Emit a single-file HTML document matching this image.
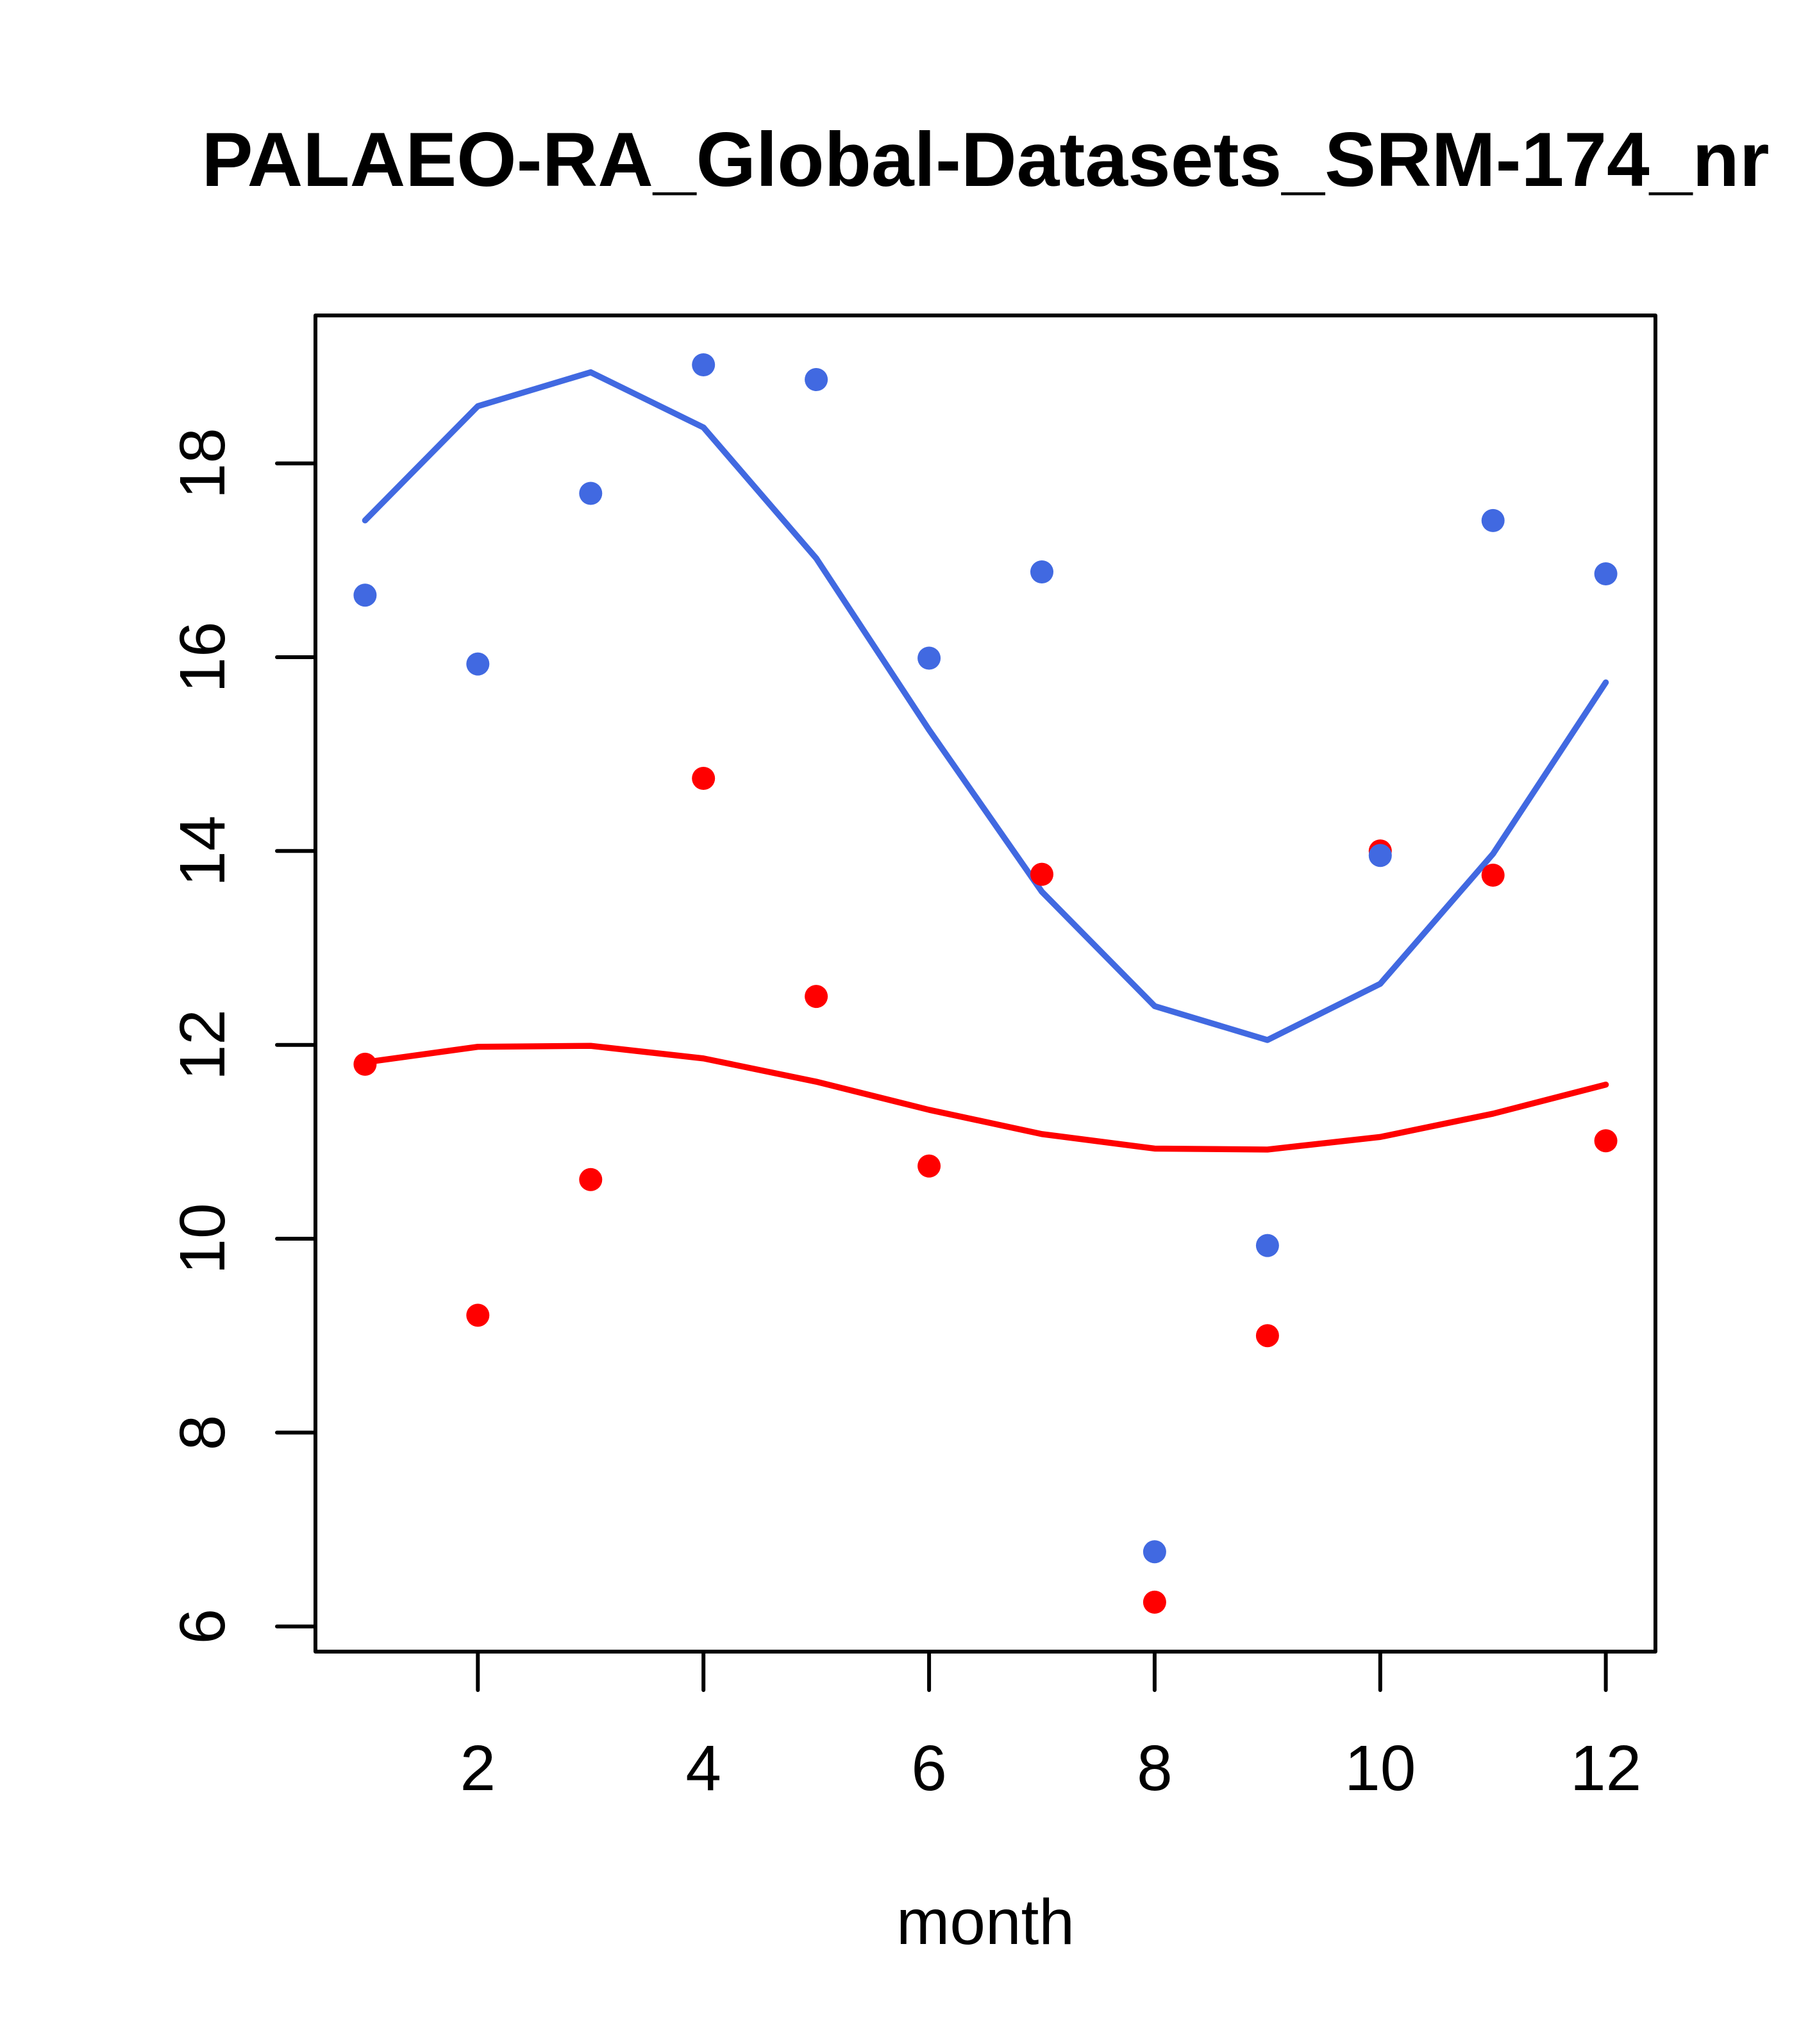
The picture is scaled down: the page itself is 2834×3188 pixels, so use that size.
<!DOCTYPE html>
<html>
<head>
<meta charset="utf-8">
<style>
html,body{margin:0;padding:0;background:#fff;}
svg{display:block;}
text{font-family:"Liberation Sans",Arial,sans-serif;fill:#000;}
</style>
</head>
<body>
<svg width="2834" height="3188" viewBox="0 0 2834 3188" xmlns="http://www.w3.org/2000/svg">
<rect x="0" y="0" width="2834" height="3188" fill="#fff"/>

<!-- title -->
<text x="1537" y="290" font-size="120" font-weight="bold" text-anchor="middle">PALAEO-RA_Global-Datasets_SRM-174_nr</text>

<!-- blue line -->
<polyline fill="none" stroke="#4169E1" stroke-width="9.4" stroke-linejoin="round" stroke-linecap="round"
 points="569.4,811.7 745.3,633.5 921.3,580.6 1097.2,666.7 1273.1,870.8 1449.1,1138.4 1625.0,1390.8 1800.9,1569.2 1976.9,1622.1 2152.8,1534.4 2328.7,1331.7 2504.6,1064.3"/>

<!-- red points -->
<g fill="#FF0000">
<circle cx="569.4" cy="1659.9" r="18"/>
<circle cx="745.3" cy="2051.4" r="18"/>
<circle cx="921.3" cy="1839.8" r="18"/>
<circle cx="1097.2" cy="1214.0" r="18"/>
<circle cx="1273.1" cy="1554.1" r="18"/>
<circle cx="1449.1" cy="1818.6" r="18"/>
<circle cx="1625.0" cy="1363.6" r="18"/>
<circle cx="1800.9" cy="2498.9" r="18"/>
<circle cx="1976.9" cy="2083.2" r="18"/>
<circle cx="2152.8" cy="1327.3" r="18"/>
<circle cx="2328.7" cy="1365.0" r="18"/>
<circle cx="2504.6" cy="1779.3" r="18"/>
</g>

<!-- blue points -->
<g fill="#4169E1">
<circle cx="569.4" cy="928.3" r="18"/>
<circle cx="745.3" cy="1035.6" r="18"/>
<circle cx="921.3" cy="769.5" r="18"/>
<circle cx="1097.2" cy="569.0" r="18"/>
<circle cx="1273.1" cy="592.0" r="18"/>
<circle cx="1449.1" cy="1026.5" r="18"/>
<circle cx="1625.0" cy="892.0" r="18"/>
<circle cx="1800.9" cy="2420.3" r="18"/>
<circle cx="1976.9" cy="1942.6" r="18"/>
<circle cx="2152.8" cy="1334.3" r="18"/>
<circle cx="2328.7" cy="811.9" r="18"/>
<circle cx="2504.6" cy="895.0" r="18"/>
</g>

<!-- red line -->
<polyline fill="none" stroke="#FF0000" stroke-width="9.4" stroke-linejoin="round" stroke-linecap="round"
 points="569.4,1656.9 745.3,1632.7 921.3,1631.2 1097.2,1650.8 1273.1,1687.1 1449.1,1731.0 1625.0,1768.8 1800.9,1791.4 1976.9,1792.9 2152.8,1773.3 2328.7,1737.0 2504.6,1691.7"/>

<!-- plot box -->
<rect x="492" y="492" width="2090" height="2084" fill="none" stroke="#000" stroke-width="6" stroke-linejoin="round"/>

<!-- x axis -->
<g stroke="#000" stroke-width="6" stroke-linecap="round" fill="none">
<line x1="745.3" y1="2576" x2="2504.6" y2="2576"/>
<line x1="745.3" y1="2576" x2="745.3" y2="2636"/>
<line x1="1097.2" y1="2576" x2="1097.2" y2="2636"/>
<line x1="1449.1" y1="2576" x2="1449.1" y2="2636"/>
<line x1="1800.9" y1="2576" x2="1800.9" y2="2636"/>
<line x1="2152.8" y1="2576" x2="2152.8" y2="2636"/>
<line x1="2504.6" y1="2576" x2="2504.6" y2="2636"/>
</g>
<g font-size="100" text-anchor="middle">
<text x="745.3" y="2792">2</text>
<text x="1097.2" y="2792">4</text>
<text x="1449.1" y="2792">6</text>
<text x="1800.9" y="2792">8</text>
<text x="2152.8" y="2792">10</text>
<text x="2504.6" y="2792">12</text>
</g>

<!-- y axis -->
<g stroke="#000" stroke-width="6" stroke-linecap="round" fill="none">
<line x1="492" y1="2536.7" x2="492" y2="722.7"/>
<line x1="432" y1="2536.7" x2="492" y2="2536.7"/>
<line x1="432" y1="2234.4" x2="492" y2="2234.4"/>
<line x1="432" y1="1932.0" x2="492" y2="1932.0"/>
<line x1="432" y1="1629.7" x2="492" y2="1629.7"/>
<line x1="432" y1="1327.3" x2="492" y2="1327.3"/>
<line x1="432" y1="1025.0" x2="492" y2="1025.0"/>
<line x1="432" y1="722.7" x2="492" y2="722.7"/>
</g>
<g font-size="100" text-anchor="middle">
<text transform="translate(350,2536.7) rotate(-90)" x="0" y="0">6</text>
<text transform="translate(350,2234.4) rotate(-90)" x="0" y="0">8</text>
<text transform="translate(350,1932.0) rotate(-90)" x="0" y="0">10</text>
<text transform="translate(350,1629.7) rotate(-90)" x="0" y="0">12</text>
<text transform="translate(350,1327.3) rotate(-90)" x="0" y="0">14</text>
<text transform="translate(350,1025.0) rotate(-90)" x="0" y="0">16</text>
<text transform="translate(350,722.7) rotate(-90)" x="0" y="0">18</text>
</g>

<!-- x label -->
<text x="1537" y="3032" font-size="100" text-anchor="middle">month</text>
</svg>
</body>
</html>
